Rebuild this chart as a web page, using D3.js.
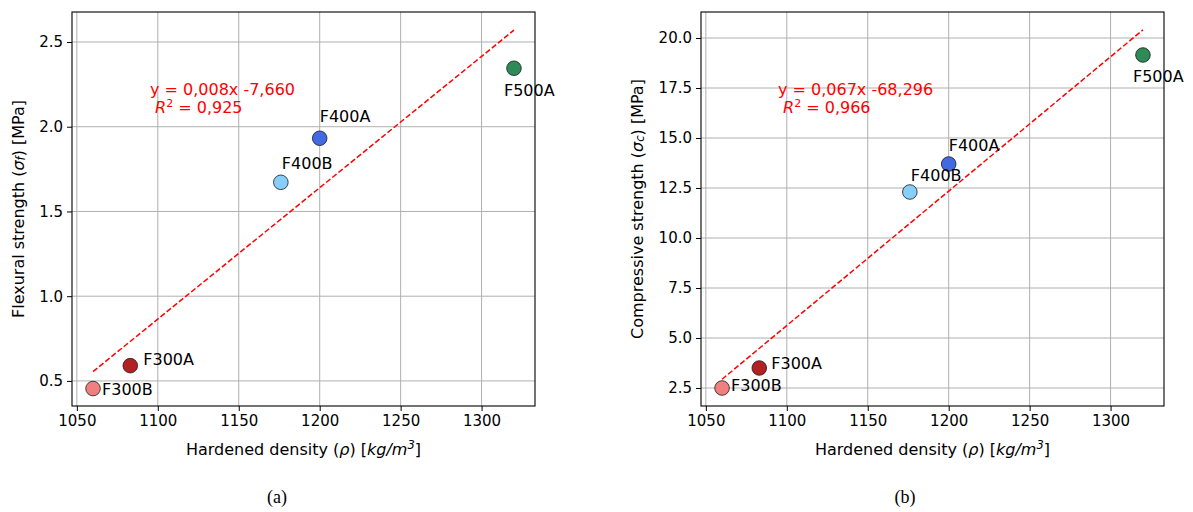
<!DOCTYPE html>
<html>
<head>
<meta charset="utf-8">
<script src="https://cdn.jsdelivr.net/npm/d3@7"></script>
<style>
  html, body { margin: 0; padding: 0; background: #fff; }
  svg { display: block; }
</style>
</head>
<body>
<svg id="fig" width="1193" height="512" font-family="DejaVu Sans, sans-serif"></svg>
<script>
// ---- data ----
const mixes = ["F300B", "F300A", "F400B", "F400A", "F500A"];
const density = [1060, 1083, 1176, 1200, 1320];            // kg/m3
const flexural = [0.455, 0.59, 1.672, 1.932, 2.345];        // MPa
const compressive = [2.5, 3.5, 12.3, 13.7, 19.15];          // MPa
const fitSlope = [0.00775, 0.0672];
const fitIntercept = [-7.660, -68.296];
const fitR2 = [0.925, 0.966];
const xTicks = [1050, 1100, 1150, 1200, 1250, 1300];
const flexTicks = [0.5, 1.0, 1.5, 2.0, 2.5];
const compTicks = [2.5, 5.0, 7.5, 10.0, 12.5, 15.0, 17.5, 20.0];
const captions = ["(a)", "(b)"];

// ---- styles ----
const mixColors = ["#f08080", "#b22222", "#87cefa", "#4169e1", "#2e8b57"];

const svg = d3.select("#fig");

// label offsets (px) relative to each marker: [dx to text start, dy to text middle]
const labelOffsets = [
  [[9, 1], [13, -6], [1, -19], [0, -22], [-10, 22]],
  [[9, -3], [12, -5], [1, -17], [0, -19], [-10, 21]]
];

const panels = [
  {
    left: 72, top: 12, width: 463, height: 394,
    xDomain: [1047, 1333], yDomain: [0.352, 2.677],
    y: flexural, yTicks: flexTicks, yFmt: d3.format(".1f"),
    ylabel: ["Flexural strength (", "σ", "f", ") [MPa]"],
    ylabelX: 18, eq: { x: 150, y: 95 }, caption: 277
  },
  {
    left: 701, top: 12, width: 463, height: 394,
    xDomain: [1047, 1333], yDomain: [1.6, 21.3],
    y: compressive, yTicks: compTicks, yFmt: d3.format(".1f"),
    ylabel: ["Compressive strength (", "σ", "c", ") [MPa]"],
    ylabelX: 637, eq: { x: 778, y: 95 }, caption: 905
  }
];

const commaFmt = v => d3.format(".3f")(v).replace(".", ",").replace("−", "-");

panels.forEach((p, i) => {
  const g = svg.append("g").attr("transform", `translate(${p.left},${p.top})`);
  const x = d3.scaleLinear().domain(p.xDomain).range([0, p.width]);
  const y = d3.scaleLinear().domain(p.yDomain).range([p.height, 0]);

  // grid
  g.append("g").selectAll("line").data(xTicks).join("line")
    .attr("x1", d => x(d)).attr("x2", d => x(d))
    .attr("y1", 0).attr("y2", p.height)
    .attr("stroke", "#b0b0b0").attr("stroke-width", 1);
  g.append("g").selectAll("line").data(p.yTicks).join("line")
    .attr("y1", d => y(d)).attr("y2", d => y(d))
    .attr("x1", 0).attr("x2", p.width)
    .attr("stroke", "#b0b0b0").attr("stroke-width", 1);

  // axes
  const xAxis = d3.axisBottom(x).tickValues(xTicks).tickFormat(d3.format("d"))
    .tickSize(5).tickPadding(4);
  const yAxis = d3.axisLeft(y).tickValues(p.yTicks).tickFormat(p.yFmt)
    .tickSize(5).tickPadding(4);
  const gx = g.append("g").attr("transform", `translate(0,${p.height})`).call(xAxis);
  const gy = g.append("g").call(yAxis);
  [gx, gy].forEach(a => {
    a.attr("font-family", null).attr("font-size", null);
    a.select(".domain").remove();
    a.selectAll("text").style("font-family", "DejaVu Sans").style("font-size", "15px").attr("fill", "#000");
    a.selectAll("line").attr("stroke", "#000").attr("stroke-width", 1);
  });

  // frame
  g.append("rect").attr("x", 0).attr("y", 0).attr("width", p.width).attr("height", p.height)
    .attr("fill", "none").attr("stroke", "#000").attr("stroke-width", 1.1);

  // regression line
  const xs = d3.extent(density);
  const line = d3.line().x(d => x(d)).y(d => y(fitSlope[i] * d + fitIntercept[i]));
  g.append("path").datum(xs).attr("d", line)
    .attr("fill", "none").attr("stroke", "#ff0000").attr("stroke-width", 1.5)
    .attr("stroke-dasharray", "5.5,2.4");

  // equation
  const eq = svg.append("text").attr("fill", "#ff0000").attr("font-size", 16);
  eq.append("tspan").attr("x", p.eq.x).attr("y", p.eq.y)
    .text(`y = ${commaFmt(fitSlope[i])}x ${commaFmt(fitIntercept[i])}`);
  const l2 = eq.append("tspan").attr("x", p.eq.x + 5).attr("y", p.eq.y + 18);
  l2.append("tspan").attr("font-style", "italic").text("R");
  l2.append("tspan").attr("font-size", 11).attr("dy", -6).text("2");
  l2.append("tspan").attr("dy", 6).text(` = ${commaFmt(fitR2[i])}`);

  // markers
  g.append("g").selectAll("circle").data(density).join("circle")
    .attr("cx", d => x(d)).attr("cy", (d, k) => y(p.y[k]))
    .attr("r", 7.3)
    .attr("fill", (d, k) => mixColors[k])
    .attr("stroke", "#1a1a1a").attr("stroke-width", 0.8);

  // marker labels
  g.append("g").selectAll("text").data(mixes).join("text")
    .attr("x", (d, k) => x(density[k]) + labelOffsets[i][k][0])
    .attr("y", (d, k) => y(p.y[k]) + labelOffsets[i][k][1])
    .attr("dominant-baseline", "central")
    .attr("font-size", 16).attr("fill", "#000")
    .text(d => d);

  // x label
  const xl = svg.append("text")
    .attr("x", p.left + p.width / 2).attr("y", 455)
    .attr("text-anchor", "middle").attr("font-size", 16).attr("fill", "#000");
  xl.append("tspan").text("Hardened density (");
  xl.append("tspan").attr("font-style", "italic").text("ρ");
  xl.append("tspan").text(") [");
  xl.append("tspan").attr("font-style", "italic").text("kg/m");
  xl.append("tspan").attr("font-style", "italic").attr("font-size", 11.5).attr("dy", -6).text("3");
  xl.append("tspan").attr("dy", 6).text("]");

  // y label
  const yl = svg.append("text")
    .attr("transform", `translate(${p.ylabelX},${p.top + p.height / 2}) rotate(-90)`)
    .attr("text-anchor", "middle").attr("dominant-baseline", "central")
    .attr("font-size", 16).attr("fill", "#000");
  yl.append("tspan").text(p.ylabel[0]);
  yl.append("tspan").attr("font-style", "italic").text(p.ylabel[1]);
  yl.append("tspan").attr("font-style", "italic").attr("font-size", 11.5).attr("dy", 3).text(p.ylabel[2]);
  yl.append("tspan").attr("dy", -3).text(p.ylabel[3]);

  // caption
  svg.append("text")
    .attr("x", p.caption).attr("y", 503)
    .attr("text-anchor", "middle")
    .attr("font-family", "Liberation Serif, DejaVu Serif, serif").attr("font-size", 18).attr("fill", "#000")
    .text(captions[i]);
});
</script>
</body>
</html>
